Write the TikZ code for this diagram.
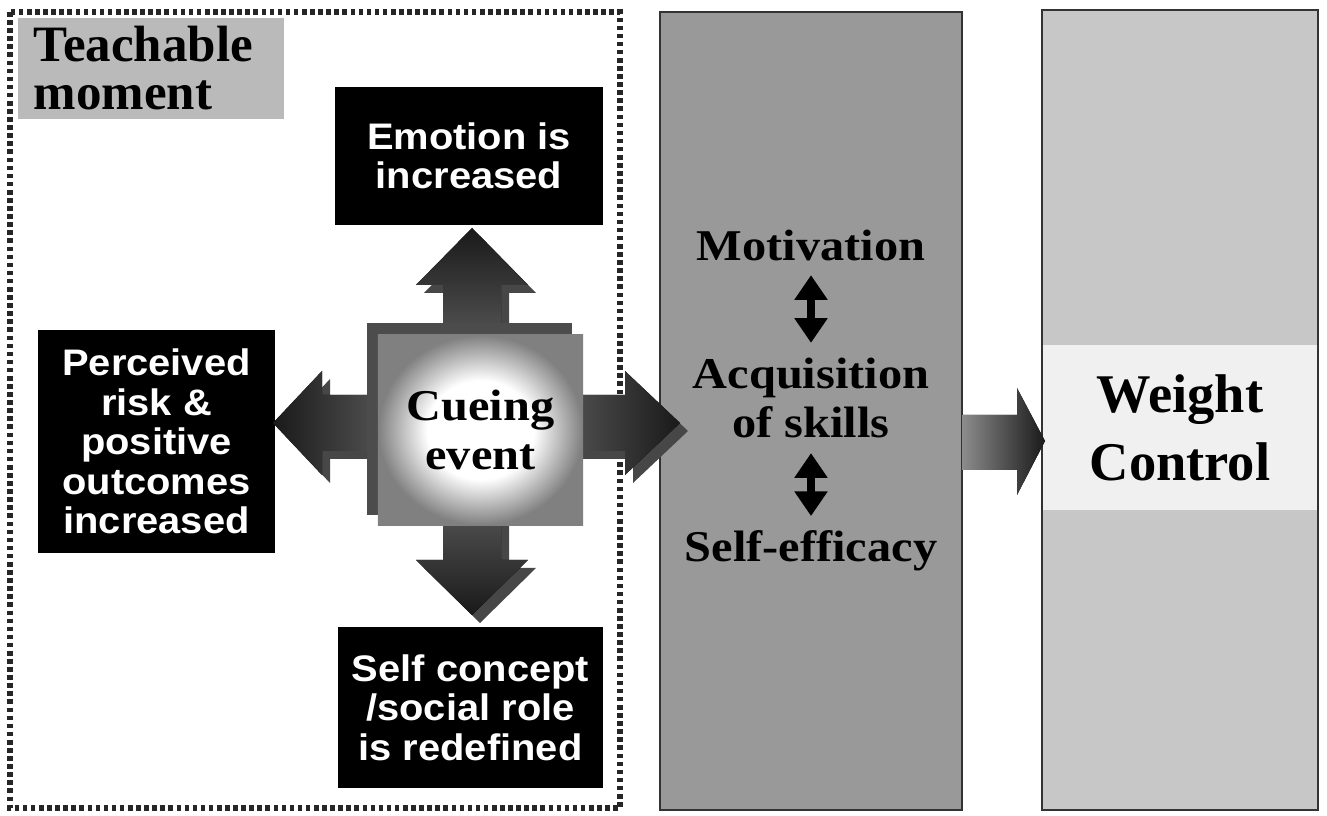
\documentclass[tikz,border=0pt]{standalone}
\usepackage{fontspec}
\setmainfont{Liberation Serif}
\newfontfamily\widefont[FakeStretch=1.1]{Liberation Serif}
\newfontfamily\boxfont[FakeStretch=1.08]{Liberation Sans}
\usetikzlibrary{arrows.meta}
\pgfdeclareradialshading{cueglow}{\pgfpoint{0bp}{0bp}}{color(0bp)=(white); color(13bp)=(white); color(25bp)=(black!50); color(50bp)=(black!50)}
\tikzset{
  blackbox/.style={fill=black, text=white, align=center, inner sep=0pt,
    font=\boxfont\bfseries\fontsize{10.5}{11.2}\selectfont},
  coltext/.style={align=center, inner sep=0pt,
    font=\widefont\bfseries\fontsize{12.5}{14.2}\selectfont},
  column/.style={draw=black!80, line width=0.7pt, inner sep=0pt},
  dotframe/.style={draw=black!85, line width=1.6pt, dash pattern=on 1.3pt off 1pt},
  dblarrow/.style={{Triangle[width=9pt,length=7pt]}-{Triangle[width=9pt,length=7pt]},
    line width=2.4pt, shorten <=0.14cm, shorten >=0.14cm},
  backarrow/.style={fill=black!72, shift={(8,8)}}
}

\begin{document}
\begin{tikzpicture}[x=0.01cm, y=-0.01cm]
      \useasboundingbox (0,0) rectangle (1327,816);

      \draw [dotframe] (10,12) rectangle (620,808);
      \node [fill=black!27, anchor=north west, minimum width=2.66cm, minimum height=1.01cm,
        inner xsep=0.16cm, inner ysep=0pt, text width=2.34cm, align=left,
        font=\bfseries\fontsize{14.5}{13.6}\selectfont] (teach) at (17,17) {Teachable\\moment};

      \node [column, fill=black!40, minimum width=3.02cm, minimum height=7.98cm] (midcol) at (811,411) {};
      \node [column, fill=black!22, minimum width=2.76cm, minimum height=8cm] (wcol) at (1180,410) {};
      \node [fill=black!6, minimum width=2.74cm, minimum height=1.65cm, inner sep=0pt, align=center,
        font=\bfseries\fontsize{15.5}{19.3}\selectfont] (weight) at (1180,427.5) {Weight\\Control};

      \node [blackbox, minimum width=2.68cm, minimum height=1.38cm] (emotion) at (469,156) {Emotion is\\increased};
      \node [blackbox, minimum width=2.37cm, minimum height=2.23cm] (risk) at (156.5,441.5) {Perceived\\risk \&\\positive\\outcomes\\increased};
      \node [blackbox, minimum width=2.65cm, minimum height=1.61cm] (selfc) at (470.5,707.5) {Self concept\\/social role\\is redefined};

      \fill [backarrow] (443,425) -- (443,285) -- (416,285) -- (472,228) -- (528,285) -- (501,285) -- (501,425) -- cycle;
      \fill [backarrow] (443,425) -- (443,560) -- (416,560) -- (472,615) -- (528,560) -- (501,560) -- (501,425) -- cycle;
      \fill [backarrow] (472,395) -- (322,395) -- (322,371) -- (273,423) -- (322,475) -- (322,451) -- (472,451) -- cycle;
      \fill [backarrow] (472,395) -- (625,395) -- (625,371) -- (680,423) -- (625,475) -- (625,451) -- (472,451) -- cycle;
      \fill [top color=black!90, bottom color=black!50] (443,425) -- (443,285) -- (416,285) -- (472,228) -- (528,285) -- (501,285) -- (501,425) -- cycle;
      \fill [bottom color=black!90, top color=black!50] (443,425) -- (443,560) -- (416,560) -- (472,615) -- (528,560) -- (501,560) -- (501,425) -- cycle;
      \fill [left color=black!90, right color=black!50] (472,395) -- (322,395) -- (322,371) -- (273,423) -- (322,475) -- (322,451) -- (472,451) -- cycle;
      \fill [right color=black!90, left color=black!50] (472,395) -- (625,395) -- (625,371) -- (680,423) -- (625,475) -- (625,451) -- (472,451) -- cycle;

      \fill [black!70] (367,323) rectangle (572,515);
      \node [coltext, shading=cueglow, minimum width=2.05cm, minimum height=1.9cm] (cue) at (480.5,430) {Cueing\\event};

      \node [coltext] (motiv) at (811,245) {Motivation};
      \node [coltext] (acq) at (811,398) {Acquisition\\of skills};
      \node [coltext] (selfeff) at (811,551) {Self-efficacy};
      \draw [dblarrow] (motiv) -- (acq);
      \draw [dblarrow] (acq) -- (selfeff);

      \fill [left color=black!45, right color=black!90] (962,415) -- (1017,415) -- (1017,388) -- (1045,441) -- (1017,495) -- (1017,470) -- (962,470) -- cycle;
\end{tikzpicture}
\end{document}
